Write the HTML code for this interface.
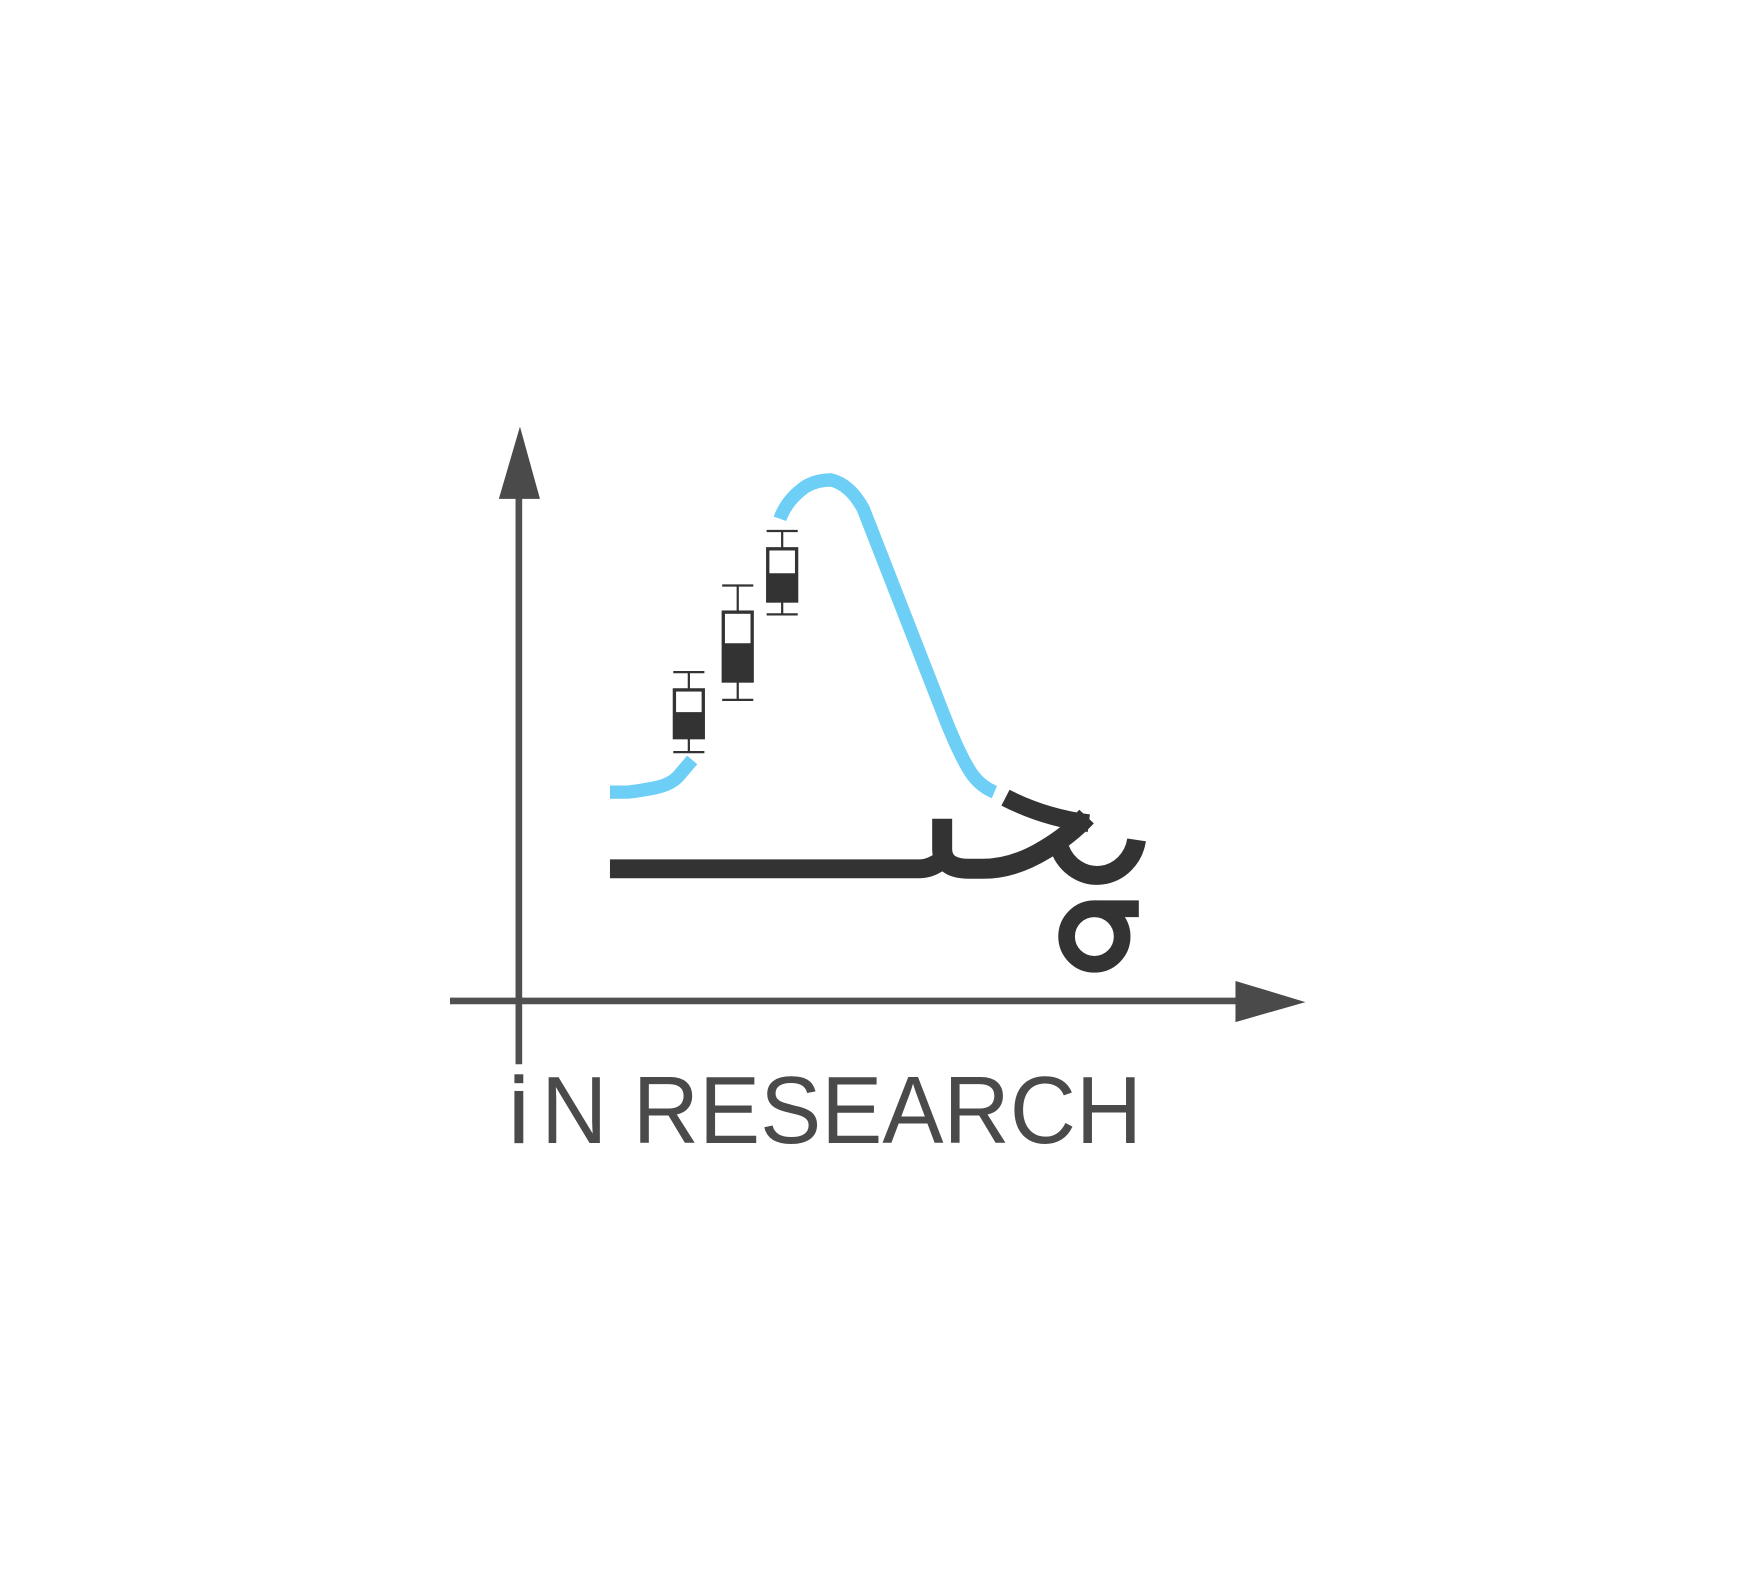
<!DOCTYPE html>
<html><head><meta charset="utf-8"><style>
html,body{margin:0;padding:0;background:#fff;}
svg{display:block;}
</style></head><body>
<svg width="1741" height="1582" viewBox="0 0 1567 1424" preserveAspectRatio="none">
<g>
<line x1="467" y1="440" x2="467" y2="958" stroke="#505050" stroke-width="6"/>
<polygon points="468,384 486,449 449,449" fill="#4a4a4a"/>
</g>
<g>
<line x1="405" y1="901" x2="1120" y2="901" stroke="#505050" stroke-width="6"/>
<polygon points="1175,902 1112,883 1112,920" fill="#4a4a4a"/>
</g>
<g fill="none" stroke="#6dcff6" stroke-width="12">
<path d="M549,713 L565,713 Q575,712 590,709 Q605,706 612,697 L623,684"/>
<path d="M702,467 Q708,450 725,438 Q735,432 748,432 Q765,436 777,458 L850,645 Q865,683 875,697 Q883,708 895,713"/>
</g>
<g stroke="#333" stroke-width="2" fill="none">
<g><line x1="606" y1="605" x2="634" y2="605"/><line x1="620" y1="605" x2="620" y2="621"/><line x1="606" y1="677" x2="634" y2="677"/><line x1="620" y1="664" x2="620" y2="677"/><rect x="607" y="621" width="26" height="43" fill="#fff" stroke-width="3"/><rect x="607" y="642" width="26" height="22" fill="#333"/></g>
<g><line x1="650" y1="527" x2="678" y2="527"/><line x1="664" y1="527" x2="664" y2="551"/><line x1="650" y1="630" x2="678" y2="630"/><line x1="664" y1="613" x2="664" y2="630"/><rect x="651" y="551" width="26" height="62" fill="#fff" stroke-width="3"/><rect x="651" y="580" width="26" height="33" fill="#333"/></g>
<g><line x1="690" y1="478" x2="718" y2="478"/><line x1="704" y1="478" x2="704" y2="494"/><line x1="690" y1="553" x2="718" y2="553"/><line x1="704" y1="541" x2="704" y2="553"/><rect x="691" y="494" width="26" height="47" fill="#fff" stroke-width="3"/><rect x="691" y="517" width="26" height="24" fill="#333"/></g>
</g>
<g fill="none" stroke="#333" stroke-width="17">
<path d="M549,782 L828,782 Q838,782 848,774"/>
<path d="M848,737 L848,764 Q848,782 872,782 L885,782 Q912,782 940,765 Q962,752 978,735" stroke-width="18"/>
<path d="M905,718 Q940,736 980,741" stroke-width="16"/>
<path d="M1023,756 A36,38 0 0 1 954,764" stroke-width="17"/>
<circle cx="985" cy="843" r="25" stroke-width="15"/>
<path d="M985,818 L1025,818" stroke-width="15"/>
</g>
<g fill="#4a4a4a">
<rect x="463" y="967" width="8" height="8"/>
<rect x="463" y="982" width="8" height="47"/>
<text x="487" y="1029" font-family="Liberation Sans, sans-serif" font-size="86" textLength="541" lengthAdjust="spacingAndGlyphs">N RESEARCH</text>
</g>
</svg>
</body></html>
